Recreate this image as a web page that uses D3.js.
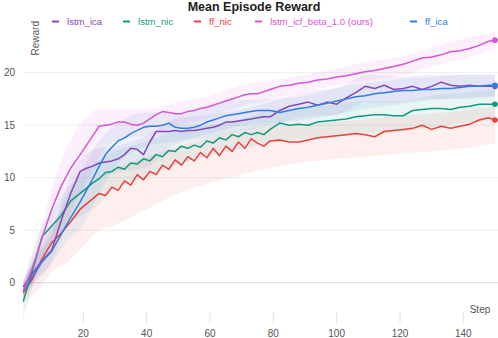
<!DOCTYPE html>
<html><head><meta charset="utf-8">
<script src="https://cdn.jsdelivr.net/npm/d3@7"></script>
<style>html,body{margin:0;padding:0;background:#fff;}svg{display:block;font-family:"Liberation Sans",Arial,sans-serif;}</style>
</head><body>
<svg id="c" width="498" height="338"></svg>
<script>
const steps = [1,4,7,10,13,16,19,21,23,25,27,29,31,33,35,37,39,41,43,45,47,49,51,53,55,57,59,61,63,65,67,69,71,73,75,77,79,82,85,88,91,94,97,100,103,106,109,112,115,118,121,124,127,130,133,136,139,142,145,148,150];
const lstm_ica = [-0.4,0.9,2.1,3.1,5.9,8.5,10.6,10.9,11.1,11.4,11.5,11.6,11.8,12.2,12.8,12.7,12.2,13.4,14.4,14.4,14.4,14.5,14.4,14.5,14.5,14.6,14.7,14.8,15.0,15.3,15.3,15.4,15.5,15.6,15.7,15.8,15.8,16.4,16.8,17.0,17.2,16.9,17.2,17.0,17.6,18.1,18.7,18.5,18.8,18.4,18.5,18.7,18.4,18.7,19.1,18.8,18.7,18.8,18.7,18.7,18.7];
const lstm_nic = [-1.8,1.2,4.4,5.4,6.4,7.8,8.5,9.0,9.5,9.9,10.5,10.6,11.0,10.8,11.4,11.3,11.8,11.6,12.2,12.0,12.6,12.5,13.0,12.8,13.1,12.9,13.5,13.3,13.8,13.6,14.1,13.9,14.3,14.1,14.3,14.1,14.6,15.2,15.0,15.1,15.0,15.3,15.4,15.5,15.6,15.8,15.9,16.0,16.0,15.9,15.9,16.4,16.5,16.6,16.6,16.5,16.7,16.8,17.0,17.0,17.0];
const ff_nic = [-1.0,0.4,2.3,3.8,4.7,5.8,7.0,7.5,8.0,8.5,8.3,9.1,8.8,9.7,9.3,10.3,9.8,10.6,10.3,11.2,10.8,11.7,11.2,12.0,11.6,12.4,11.9,12.8,12.1,13.0,12.5,13.4,12.8,13.7,13.3,13.0,13.5,13.6,13.4,13.4,13.6,13.8,13.9,14.0,14.1,14.2,14.1,13.9,14.4,14.5,14.6,14.7,15.0,14.6,14.9,14.7,14.9,15.1,15.5,15.7,15.5];
const lstm_icf = [-0.8,1.5,4.3,7.0,9.2,10.9,12.2,13.1,14.0,14.9,15.0,15.1,15.3,15.3,15.1,15.0,15.2,15.6,16.0,16.3,16.2,16.1,16.1,16.3,16.4,16.6,16.7,16.9,17.1,17.3,17.5,17.7,17.9,18.0,18.0,18.2,18.4,18.7,18.8,19.0,19.1,19.3,19.4,19.6,19.7,19.9,20.1,20.2,20.4,20.6,20.8,21.1,21.4,21.5,21.7,22.0,22.1,22.3,22.6,23.0,23.1];
const ff_ica = [-0.8,0.6,2.0,3.0,4.6,6.2,7.7,8.8,9.9,11.1,12.2,12.9,13.5,13.8,14.2,14.5,14.8,14.9,14.9,15.0,15.2,14.8,14.7,14.7,14.8,15.0,15.3,15.5,15.7,15.9,16.0,16.1,16.2,16.3,16.4,16.4,16.4,16.2,16.4,16.6,16.7,16.9,17.1,17.3,17.5,17.7,17.8,18.0,18.1,18.2,18.3,18.3,18.4,18.4,18.5,18.5,18.6,18.7,18.7,18.8,18.8];

const bandSteps = [1,5,10,15,20,25,30,40,50,60,70,80,90,100,110,120,130,140,150];
const lstm_ica_lo = [-1,0.3,2,6,9,10,10.5,11,13.3,13.8,14.5,15,15.8,16,17.2,17.2,17.5,17.5,17.7];
const lstm_ica_hi = [0.3,2.5,4.5,9.5,12,12.8,13,14,15.7,16,16.5,17.3,18.2,18.5,19.8,19.6,19.8,19.8,19.8];
const lstm_nic_lo = [-3.5,0.5,3.5,5.5,6.5,7.5,9,10,11.3,12.1,12.7,13.4,13.7,13.9,14.2,14.4,14.8,15.2,15.5];
const lstm_nic_hi = [0,4,6.8,9,10.5,11.7,12.5,13.5,14.5,15,15.6,16.5,16.6,17,17.3,17.3,17.8,18.1,18.4];
const ff_nic_lo = [-2,-1,1,2,3.5,5,5.5,7,8.5,9.5,10.3,11,11.5,11.8,12,12.3,12.5,12.8,13.3];
const ff_nic_hi = [0,2.5,5.5,7.5,9,10,10.8,12,13,13.8,14.6,14.9,15,15.3,15.6,15.9,16.1,16.4,16.8];
const lstm_icf_lo = [-1.5,0.5,4,7,9,12,13.5,14,15,15.8,16.8,17.5,18.2,18.8,19.3,19.7,20.6,21.3,22.3];
const lstm_icf_hi = [0,3.5,9,13,15.5,16.5,16.5,16.5,17.2,17.8,18.8,19.3,19.8,20.4,21.1,21.5,22.4,23.2,23.9];
const ff_ica_lo = [-1.5,0,1.8,4,5.5,8.5,11,13,13.5,14.2,15,15.2,15.5,16,16.6,17,17.4,17.6,17.8];
const ff_ica_hi = [0,2.5,4.8,8.5,11,13.5,15,16.2,16,17,17.4,17.5,17.8,18.6,19,19.4,19.6,19.8,19.8];

const seriesNames = ["lstm_ica","lstm_nic","ff_nic","lstm_icf_beta_1.0 (ours)","ff_ica"];
const xTicks = [20,40,60,80,100,120,140];
const yTicks = [0,5,10,15,20];

const colors = ["#8747b8","#109a80","#e9413e","#d655d2","#2f7fe0"];
const series = [
  {name:seriesNames[0], vals:lstm_ica, lo:lstm_ica_lo, hi:lstm_ica_hi, color:colors[0], lx:52},
  {name:seriesNames[1], vals:lstm_nic, lo:lstm_nic_lo, hi:lstm_nic_hi, color:colors[1], lx:123},
  {name:seriesNames[2], vals:ff_nic, lo:ff_nic_lo, hi:ff_nic_hi, color:colors[2], lx:194},
  {name:seriesNames[3], vals:lstm_icf, lo:lstm_icf_lo, hi:lstm_icf_hi, color:colors[3], lx:255},
  {name:seriesNames[4], vals:ff_ica, lo:ff_ica_lo, hi:ff_ica_hi, color:colors[4], lx:410}
];

const svg = d3.select("#c");
const x = d3.scaleLinear().domain([0,150]).range([20,495]);
const y = d3.scaleLinear().domain([0,20]).range([282.7,72.7]);

const g = svg.append("g");
g.selectAll("line.gy").data(yTicks).enter().append("line")
  .attr("x1",24).attr("x2",498).attr("y1",d=>y(d)).attr("y2",d=>y(d))
  .attr("stroke",d=>d===0?"#dcdcdc":"#ededed").attr("stroke-width",1);
g.selectAll("text.ty").data(yTicks).enter().append("text")
  .attr("x",15).attr("y",d=>y(d)+3.5).attr("text-anchor","end")
  .attr("font-size",10).attr("fill","#555").text(d=>d);
g.selectAll("line.gx").data(xTicks).enter().append("line")
  .attr("x1",d=>x(d)).attr("x2",d=>x(d)).attr("y1",312).attr("y2",323)
  .attr("stroke","#e2e2e2").attr("stroke-width",1);
g.selectAll("text.tx").data(xTicks).enter().append("text")
  .attr("x",d=>x(d)).attr("y",337).attr("text-anchor","middle")
  .attr("font-size",10).attr("fill","#555").text(d=>d);

svg.append("text").attr("x",480).attr("y",313).attr("text-anchor","middle")
  .attr("font-size",10).attr("fill","#555").text("Step");
svg.append("text").attr("transform","translate(39,21) rotate(-90)").attr("text-anchor","end")
  .attr("font-size",10).attr("fill","#555").text("Reward");

svg.append("text").attr("x",254).attr("y",10.5).attr("text-anchor","middle")
  .attr("font-size",12.5).attr("font-weight","bold").attr("fill","#222").text("Mean Episode Reward");

series.forEach(s=>{
  svg.append("line").attr("x1",s.lx).attr("x2",s.lx+7).attr("y1",21.5).attr("y2",21.5)
    .attr("stroke",s.color).attr("stroke-width",2);
  svg.append("text").attr("x",s.lx+15).attr("y",25).attr("font-size",9.6)
    .attr("fill",s.color).text(s.name);
});

const area = d3.area().x(d=>x(d.s)).y0(d=>y(d.lo)).y1(d=>y(d.hi)).curve(d3.curveMonotoneX);
series.forEach(s=>{
  const bd = bandSteps.map((st,i)=>({s:st, lo:s.lo[i], hi:s.hi[i]}));
  svg.append("path").datum(bd).attr("d",area).attr("fill",s.color).attr("fill-opacity",0.085);
});

const line = d3.line().x(d=>x(d.s)).y(d=>y(d.v));
const order = [2,1,0,4,3];
order.forEach(k=>{
  const s = series[k];
  const pts = steps.map((st,i)=>({s:st, v:s.vals[i]}));
  svg.append("path").datum(pts).attr("d",line).attr("fill","none")
    .attr("stroke",s.color).attr("stroke-width",1.5).attr("stroke-linejoin","round");
  const last = pts[pts.length-1];
  svg.append("circle").attr("cx",x(last.s)).attr("cy",y(last.v)).attr("r",2.8).attr("fill",s.color);
});
</script>
</body></html>
